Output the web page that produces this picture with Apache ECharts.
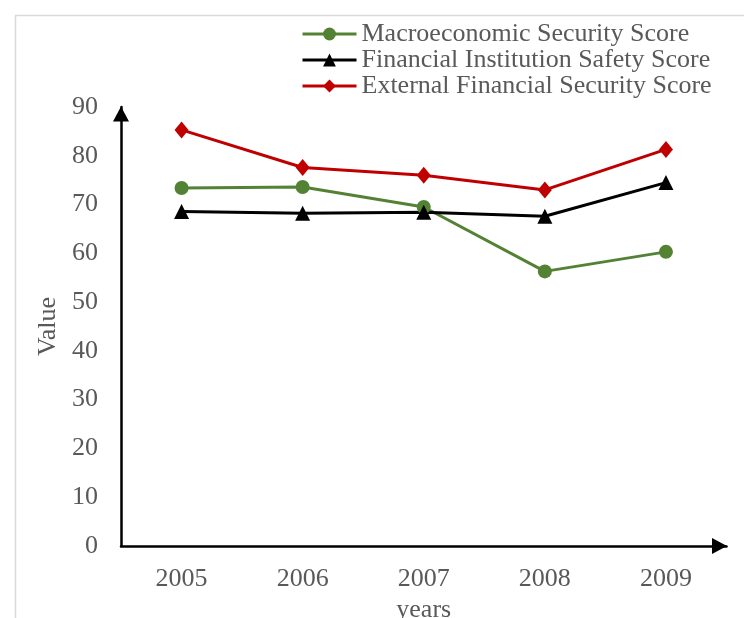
<!DOCTYPE html>
<html>
<head>
<meta charset="utf-8">
<script src="https://cdn.jsdelivr.net/npm/echarts@6/dist/echarts.min.js"></script>
<style>html,body{margin:0;padding:0;background:#fff}#c{width:744px;height:618px}</style>
</head>
<body>
<div id="c"></div>
<script>
var categories = ['2005', '2006', '2007', '2008', '2009'];
var macroScore = [73.4, 73.6, 69.5, 56.3, 60.3];
var institutionScore = [68.6, 68.2, 68.4, 67.6, 74.5];
var externalScore = [85.3, 77.6, 76.0, 73.0, 81.3];
var seriesNames = ['Macroeconomic Security Score', 'Financial Institution Safety Score', 'External Financial Security Score'];

var font = 'Liberation Serif';
var gray = '#595959';
var fs = 26;
var chart = echarts.init(document.getElementById('c'));
chart.setOption({
  animation: false,
  graphic: [{
    type: 'rect', left: 13, top: 13, shape: {width: 800, height: 700},
    style: {fill: 'none', stroke: '#d9d9d9', lineWidth: 1.5}, silent: true
  }],
  legend: {
    orient: 'vertical', left: 296, top: 16,
    itemWidth: 54, itemHeight: 16, itemGap: 0,
    lineStyle: {width: 3},
    textStyle: {fontFamily: font, fontSize: fs, color: gray, lineHeight: 26},
    data: seriesNames
  },
  grid: {left: 121, right: 17.5, top: 107, bottom: 72, outerBoundsMode: 'none', containLabel: false},
  xAxis: {
    type: 'category', data: categories, boundaryGap: true,
    name: 'years', nameLocation: 'middle', nameGap: 47,
    nameTextStyle: {fontFamily: font, fontSize: fs, color: gray},
    axisLine: {lineStyle: {color: '#000', width: 2.5}, symbol: ['none', 'triangle'], symbolSize: [16, 15], symbolOffset: [0, -7]},
    axisTick: {show: false},
    axisLabel: {fontFamily: font, fontSize: fs, color: gray, margin: 20}
  },
  yAxis: {
    type: 'value', min: 0, max: 90, interval: 10,
    name: 'Value', nameLocation: 'middle', nameGap: 58,
    nameTextStyle: {fontFamily: font, fontSize: fs, color: gray},
    axisLine: {show: true, lineStyle: {color: '#000', width: 2.5}, symbol: ['none', 'triangle'], symbolSize: [16, 15], symbolOffset: [0, -7]},
    axisTick: {show: false},
    splitLine: {show: false},
    axisLabel: {fontFamily: font, fontSize: fs, color: gray, margin: 23}
  },
  series: [
    {name: seriesNames[0], type: 'line', data: macroScore, symbol: 'circle', symbolSize: 14,
     lineStyle: {color: '#548235', width: 3}, itemStyle: {color: '#548235'}},
    {name: seriesNames[1], type: 'line', data: institutionScore, symbol: 'triangle', symbolSize: 15,
     lineStyle: {color: '#000000', width: 3}, itemStyle: {color: '#000000'}},
    {name: seriesNames[2], type: 'line', data: externalScore, symbol: 'diamond', symbolSize: [14, 17],
     lineStyle: {color: '#c00000', width: 3}, itemStyle: {color: '#c00000'}}
  ]
});
</script>
</body>
</html>
